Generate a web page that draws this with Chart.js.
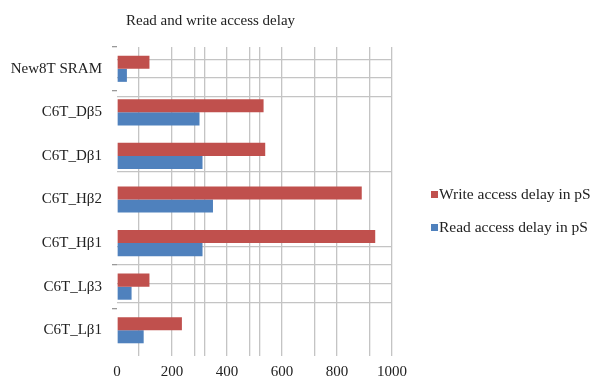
<!DOCTYPE html>
<html>
<head>
<meta charset="utf-8">
<script src="https://cdn.jsdelivr.net/npm/chart.js@4.4.1/dist/chart.umd.min.js"></script>
<style>
  html, body { margin: 0; padding: 0; background: #fff; overflow: hidden; }
  #wrap { position: relative; width: 590px; height: 384px; overflow: hidden; }
  #chart { position: absolute; left: 0; top: 0; }
  .txt { position: absolute; font-family: "Liberation Serif", serif; font-size: 15px; color: #222; white-space: nowrap; line-height: 16px; }
  .sw { position: absolute; width: 7px; height: 7px; }
</style>
</head>
<body>
<div id="wrap">
  <canvas id="chart" width="590" height="384"></canvas>
  <div class="txt" style="left:126px; top:12px;">Read and write access delay</div>
  <div class="sw" style="left:431px; top:191px; background:#C0504D;"></div>
  <div class="txt" style="left:439px; top:186px; font-size:15.5px;">Write access delay in pS</div>
  <div class="sw" style="left:431px; top:224px; background:#4F81BD;"></div>
  <div class="txt" style="left:439px; top:219px; font-size:15.5px;">Read access delay in pS</div>
</div>
<script>
const categories = ['New8T SRAM', 'C6T_Dβ5', 'C6T_Dβ1', 'C6T_Hβ2', 'C6T_Hβ1', 'C6T_Lβ3', 'C6T_Lβ1'];
const writeDelay = [118, 533, 539, 890, 939, 118, 236];
const readDelay = [36, 300, 311, 349, 311, 53, 97];

// vertical grid lines that survive in the picture, and the labelled ticks
const xGridValues = [80, 200, 282, 320, 400, 482, 520, 600, 720, 800, 920, 1000];
const xTickLabels = [0, 200, 400, 600, 800, 1000];
// horizontal lines, counted in half category bands from the top
const hGridRows = [0, 1, 2, 9, 10, 11, 12];
// category boundaries with a small tick on the left
const catTickIndexes = [0, 1, 5, 6];

const GRID = '#c4c4c4';
const FONT = { family: '"Liberation Serif", serif', size: 15 };

new Chart(document.getElementById('chart').getContext('2d'), {
    type: 'bar',
    data: {
        labels: categories,
        datasets: [
            { label: 'Write access delay in pS', data: writeDelay, backgroundColor: '#C0504D', yAxisID: 'y' },
            { label: 'Read access delay in pS', data: readDelay, backgroundColor: '#4F81BD', yAxisID: 'y' }
        ]
    },
    options: {
        indexAxis: 'y',
        animation: false,
        responsive: false,
        categoryPercentage: 0.6,
        barPercentage: 1.0,
        layout: { padding: { left: 0, right: 198, top: 47, bottom: 0 } },
        plugins: {
            legend: { display: false },
            title: { display: false },
            tooltip: { enabled: false }
        },
        scales: {
            x: {
                type: 'linear',
                min: 0,
                max: 1000,
                afterBuildTicks: (axis) => {
                    axis.ticks = [0, ...xGridValues].map(v => ({ value: v }));
                },
                afterFit: (axis) => { axis.height = 32; },
                border: { display: false },
                grid: {
                    color: (ctx) => xGridValues.includes(ctx.tick && ctx.tick.value) ? GRID : 'rgba(0,0,0,0)',
                    lineWidth: 1.3,
                    drawTicks: true,
                    tickLength: 4
                },
                ticks: {
                    autoSkip: false,
                    maxRotation: 0,
                    color: '#222',
                    font: FONT,
                    padding: 7,
                    callback: (v) => xTickLabels.includes(v) ? String(v) : ''
                }
            },
            y: {
                type: 'category',
                position: 'left',
                afterFit: (axis) => { axis.width = 117; },
                border: { display: false },
                grid: {
                    offset: true,
                    drawOnChartArea: false,
                    drawTicks: true,
                    tickLength: 5,
                    lineWidth: 1.3,
                    color: (ctx) => catTickIndexes.includes(ctx.index) ? '#999' : 'rgba(0,0,0,0)'
                },
                ticks: { color: '#222', font: FONT, padding: 10 }
            },
            yGrid: {
                type: 'linear',
                position: 'right',
                reverse: true,
                min: 0,
                max: 14,
                afterBuildTicks: (axis) => {
                    axis.ticks = hGridRows.map(v => ({ value: v }));
                },
                afterFit: (axis) => { axis.width = 0; },
                border: { display: false },
                grid: { color: GRID, lineWidth: 1.3, drawTicks: false },
                ticks: { display: false }
            }
        }
    }
});
</script>
</body>
</html>
